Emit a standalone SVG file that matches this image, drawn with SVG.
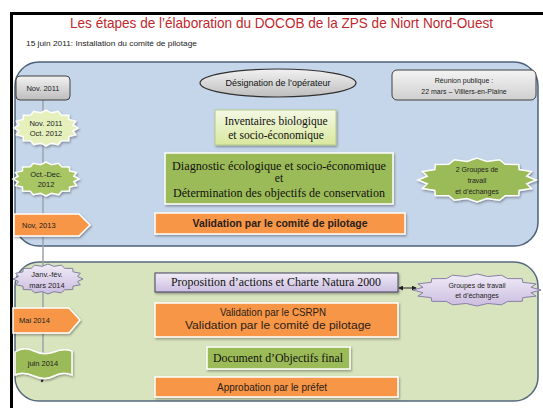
<svg xmlns="http://www.w3.org/2000/svg" xmlns:xlink="http://www.w3.org/1999/xlink" width="543" height="408" viewBox="0 0 543 408">
<defs>
<style>
.sans{font-family:"Liberation Sans",Arial,sans-serif;}
.serif{font-family:"Liberation Serif","Times New Roman",serif;}
.t7{font-size:7px;fill:#222;}
.t75{font-size:7.5px;fill:#222;}
.ser{font-size:11.5px;fill:#111;}
.lab{font-size:10px;fill:#2a2017;}
.box{stroke:#ffffff;stroke-width:1.5;filter:url(#sh);}
.orange{fill:#f79646;}
.green{fill:#9bbb59;}
</style>
<filter id="sh" x="-10%" y="-20%" width="130%" height="160%">
<feDropShadow dx="1" dy="1.5" stdDeviation="1" flood-color="#000" flood-opacity="0.35"/>
</filter>
<linearGradient id="gray" x1="0" y1="0" x2="0" y2="1">
<stop offset="0" stop-color="#f2f2f2"/><stop offset="1" stop-color="#bdbdbd"/>
</linearGradient>
<linearGradient id="gray2" x1="0" y1="0" x2="0" y2="1">
<stop offset="0" stop-color="#f4f4f4"/><stop offset="1" stop-color="#cfcfcf"/>
</linearGradient>
<linearGradient id="lgreen" x1="0" y1="0" x2="0" y2="1">
<stop offset="0" stop-color="#f4f8e4"/><stop offset="1" stop-color="#d9e89e"/>
</linearGradient>
<linearGradient id="lav" x1="0" y1="0" x2="0" y2="1">
<stop offset="0" stop-color="#f1ecf7"/><stop offset="1" stop-color="#cbbde0"/>
</linearGradient>
<polygon id="star" vector-effect="non-scaling-stroke" points="1,0 0.8435,0.1678 0.9239,0.3827 0.7151,0.4778 0.7071,0.7071 0.4778,0.7151 0.3827,0.9239 0.1678,0.8435 0,1 -0.1678,0.8435 -0.3827,0.9239 -0.4778,0.7151 -0.7071,0.7071 -0.7151,0.4778 -0.9239,0.3827 -0.8435,0.1678 -1,0 -0.8435,-0.1678 -0.9239,-0.3827 -0.7151,-0.4778 -0.7071,-0.7071 -0.4778,-0.7151 -0.3827,-0.9239 -0.1678,-0.8435 0,-1 0.1678,-0.8435 0.3827,-0.9239 0.4778,-0.7151 0.7071,-0.7071 0.7151,-0.4778 0.9239,-0.3827 0.8435,-0.1678"/>
<marker id="ah" viewBox="0 0 6 6" refX="5" refY="3" markerWidth="5" markerHeight="5" orient="auto-start-reverse">
<path d="M0,0 L6,3 L0,6 z" fill="#222"/>
</marker>
</defs>

<rect x="0" y="0" width="543" height="408" fill="#ffffff"/>
<path d="M11.5,408 V13.5 H543" fill="none" stroke="#000" stroke-width="3"/>

<g id="title">
<text class="sans" x="281.5" y="28" font-size="15" fill="#c0282e" text-anchor="middle" textLength="423" lengthAdjust="spacingAndGlyphs">Les étapes de l’élaboration du DOCOB de la ZPS de Niort Nord-Ouest</text>
<text class="sans" x="26" y="46" font-size="7" fill="#222" textLength="171" lengthAdjust="spacingAndGlyphs">15 juin 2011: Installation du comité de pilotage</text>
</g>

<g id="panel-blue">
<rect x="15" y="62" width="523" height="184" rx="24" fill="#c6d6ea" stroke="#4d617b" stroke-width="1.5"/>
</g>
<g id="panel-green">
<rect x="15" y="262" width="523" height="139" rx="24" fill="#d8e4bd" stroke="#56697f" stroke-width="1.5"/>
</g>

<g id="connectors">
<line x1="43" y1="100" x2="43" y2="381" stroke="#9aa3ab" stroke-width="1.5"/>
<circle cx="42" cy="381" r="1.2" fill="#333"/>
<line x1="399" y1="288" x2="416" y2="288" stroke="#222" stroke-width="1" marker-start="url(#ah)" marker-end="url(#ah)"/>
</g>

<g id="d-nov2011">
<rect x="16" y="76" width="54" height="24" rx="4" fill="url(#gray)" stroke="#404040" stroke-width="1"/>
<text class="sans t75" x="43" y="91" text-anchor="middle">Nov. 2011</text>
</g>

<g id="d-nov2011-oct2012">
<g filter="url(#sh)"><use xlink:href="#star" transform="translate(46,128) scale(32,18)" fill="#e6f0bd" stroke="#ffffff" stroke-width="1.5"/></g>
<text class="sans t75" x="46" y="126" text-anchor="middle">Nov. 2011</text>
<text class="sans t75" x="46" y="136" text-anchor="middle">Oct. 2012</text>
</g>

<g id="d-oct-dec2012">
<g filter="url(#sh)"><use xlink:href="#star" transform="translate(46,179) scale(33,17)" fill="#a9c665" stroke="#ffffff" stroke-width="1.5"/></g>
<text class="sans t75" x="46" y="177" text-anchor="middle">Oct.-Dec.</text>
<text class="sans t75" x="46" y="187" text-anchor="middle">2012</text>
</g>

<g id="d-nov2013">
<path d="M14,214 H79 L90,225 L79,236 H14 Z" class="orange box"/>
<text class="sans t75" x="22" y="228" fill="#3a2410">Nov, 2013</text>
</g>

<g id="d-janv2014">
<use xlink:href="#star" transform="translate(48,279) scale(35,15)" fill="url(#lav)" stroke="#7f7f9a" stroke-width="1"/>
<text class="sans t75" x="47" y="277" text-anchor="middle">Janv.-fév.</text>
<text class="sans t75" x="47" y="288" text-anchor="middle">mars 2014</text>
</g>

<g id="d-mai2014">
<path d="M13,308 H69 L80,320 L69,333 H13 Z" class="orange box"/>
<text class="sans t75" x="19" y="323" fill="#3a2410">Mai 2014</text>
</g>

<g id="d-juin2014">
<path d="M15,352 Q24,346 34,351 T54,352 T72,351 V375 Q63,371 54,376 T34,376 T15,375 Z" class="green box"/>
<text class="sans t75" x="43" y="366" text-anchor="middle">juin 2014</text>
</g>

<g id="n-designation">
<ellipse cx="278" cy="83" rx="78" ry="14" fill="url(#gray)" stroke="#303030" stroke-width="1.2"/>
<text class="sans" x="278" y="86" font-size="9" fill="#111" text-anchor="middle">Désignation de l’opérateur</text>
</g>

<g id="n-reunion">
<rect x="392" y="70" width="144" height="30" rx="5" fill="url(#gray2)" stroke="#404040" stroke-width="1"/>
<text class="sans t7" x="464" y="83" text-anchor="middle">Réunion publique :</text>
<text class="sans t7" x="464" y="94" text-anchor="middle">22 mars – Villiers-en-Plaine</text>
</g>

<g id="n-inventaires">
<rect x="215" y="110" width="121" height="35" fill="url(#lgreen)" stroke="#b5c98a" stroke-width="1" filter="url(#sh)"/>
<text class="serif ser" x="276" y="125" text-anchor="middle">Inventaires biologique</text>
<text class="serif ser" x="276" y="139" text-anchor="middle">et socio-économique</text>
</g>

<g id="n-diagnostic">
<rect x="165" y="153" width="228" height="51" class="green box" stroke-width="2"/>
<text class="serif ser" x="279" y="170" text-anchor="middle" textLength="214" lengthAdjust="spacingAndGlyphs">Diagnostic  écologique et socio-économique</text>
<text class="serif ser" x="279" y="182" text-anchor="middle">et</text>
<text class="serif ser" x="279" y="197" text-anchor="middle" textLength="212" lengthAdjust="spacingAndGlyphs">Détermination des objectifs de conservation</text>
</g>

<g id="n-validation1">
<rect x="155" y="213" width="250" height="21" class="orange box"/>
<text class="sans lab" x="280" y="227" font-weight="bold" text-anchor="middle" textLength="175" lengthAdjust="spacingAndGlyphs">Validation par le comité de pilotage</text>
</g>

<g id="n-groupes1">
<g filter="url(#sh)"><use xlink:href="#star" transform="translate(477,180) scale(59,22)" fill="#9bbb59" stroke="#ffffff" stroke-width="1.5"/></g>
<text class="sans t7" x="477" y="172" text-anchor="middle">2 Groupes de</text>
<text class="sans t7" x="477" y="183" text-anchor="middle">travail</text>
<text class="sans t7" x="477" y="194" text-anchor="middle">et d’échanges</text>
</g>

<g id="n-proposition">
<rect x="155" y="273" width="243" height="19" fill="url(#lav)" stroke="#404060" stroke-width="1" filter="url(#sh)"/>
<text class="serif ser" x="276" y="286" text-anchor="middle" textLength="210" lengthAdjust="spacingAndGlyphs">Proposition d’actions et Charte Natura 2000</text>
</g>

<g id="n-groupes2">
<use xlink:href="#star" transform="translate(477,290) scale(64,16)" fill="url(#lav)" stroke="#8a7fa8" stroke-width="1"/>
<text class="sans t7" x="477" y="288" text-anchor="middle">Groupes de travail</text>
<text class="sans t7" x="477" y="298" text-anchor="middle">et d’échanges</text>
</g>

<g id="n-validation2">
<rect x="155" y="303" width="243" height="34" class="orange box"/>
<text class="sans" x="273" y="316" font-size="10.5" fill="#2a2017" text-anchor="middle" textLength="106" lengthAdjust="spacingAndGlyphs">Validation par le CSRPN</text>
<text class="sans" x="278" y="329" font-size="10.5" fill="#2a2017" text-anchor="middle" textLength="186" lengthAdjust="spacingAndGlyphs">Validation par le comité de pilotage</text>
</g>

<g id="n-document">
<rect x="207" y="347" width="143" height="22" class="green box" stroke-width="2"/>
<text class="serif ser" x="278" y="362" text-anchor="middle" textLength="130" lengthAdjust="spacingAndGlyphs">Document d’Objectifs final</text>
</g>

<g id="n-approbation">
<rect x="155" y="377" width="243" height="20" class="orange box"/>
<text class="sans lab" x="272" y="391" text-anchor="middle" textLength="110" lengthAdjust="spacingAndGlyphs">Approbation par le préfet</text>
</g>
</svg>
